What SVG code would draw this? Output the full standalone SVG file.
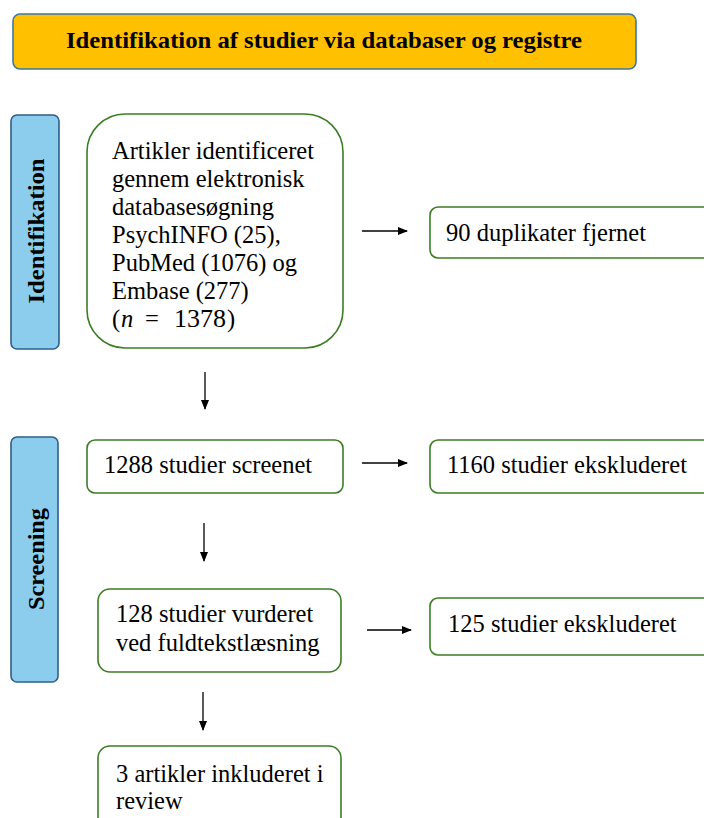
<svg xmlns="http://www.w3.org/2000/svg" width="704" height="818" viewBox="0 0 704 818">
<style>
.box{fill:#ffffff;stroke:#3b7d23;stroke-width:1.6}
.side{fill:#8ccdee;stroke:#2f5d8a;stroke-width:1.6}
.t{font-family:"Liberation Serif","Times New Roman",serif;font-size:24.5px;fill:#000}
.b{font-family:"Liberation Serif","Times New Roman",serif;font-weight:bold;fill:#000}
.arr{stroke:#000;stroke-width:1.3;fill:none;marker-end:url(#ah)}
</style>
<defs>
<marker id="ah" markerWidth="10" markerHeight="8" refX="9" refY="4" orient="auto" markerUnits="userSpaceOnUse">
<path d="M0,0 L10,4 L0,8 z" fill="#000"/>
</marker>
</defs>
<rect width="704" height="818" fill="#ffffff"/>
<g id="title">
<rect x="13" y="14" width="623" height="55" rx="7" fill="#ffc000" stroke="#3a78a8" stroke-width="1.6"/>
<text class="b" x="324" y="48" font-size="24" text-anchor="middle" textLength="516" lengthAdjust="spacingAndGlyphs">Identifikation af studier via databaser og registre</text>
</g>
<g id="side-identifikation">
<rect class="side" x="11" y="115" width="48" height="234" rx="6"/>
<text class="b" font-size="24" text-anchor="middle" textLength="145" lengthAdjust="spacingAndGlyphs" transform="translate(44,231) rotate(-90)">Identifikation</text>
</g>
<g id="side-screening">
<rect class="side" x="11" y="437" width="47" height="245" rx="6"/>
<text class="b" font-size="24" text-anchor="middle" textLength="102" lengthAdjust="spacingAndGlyphs" transform="translate(44,559) rotate(-90)">Screening</text>
</g>
<g id="n-identified">
<rect class="box" x="87" y="114" width="256" height="234" rx="38"/>
<text class="t" x="112"><tspan x="112" y="159">Artikler identificeret</tspan><tspan x="112" y="187">gennem elektronisk</tspan><tspan x="112" y="215">databasesøgning</tspan><tspan x="112" y="243">PsychINFO (25),</tspan><tspan x="112" y="271">PubMed (1076) og</tspan><tspan x="112" y="299">Embase (277)</tspan><tspan x="112" y="327">(</tspan><tspan x="121" y="327" font-style="italic">n</tspan><tspan x="145" y="327">=</tspan><tspan x="174" y="327" textLength="52" lengthAdjust="spacingAndGlyphs">1378</tspan><tspan x="227" y="327">)</tspan></text>
</g>
<g id="n-duplicates">
<rect class="box" x="430" y="207" width="290" height="51" rx="8"/>
<text class="t" x="446" y="241">90 duplikater fjernet</text>
</g>
<g id="n-screened">
<rect class="box" x="87" y="440" width="256" height="53" rx="8"/>
<text class="t" x="104" y="473">1288 studier screenet</text>
</g>
<g id="n-excluded1">
<rect class="box" x="430" y="440" width="290" height="53" rx="8"/>
<text class="t" x="447" y="473">1160 studier ekskluderet</text>
</g>
<g id="n-fulltext">
<rect class="box" x="98" y="589" width="243" height="83" rx="12"/>
<text class="t"><tspan x="116" y="622">128 studier vurderet</tspan><tspan x="116" y="651">ved fuldtekstlæsning</tspan></text>
</g>
<g id="n-excluded2">
<rect class="box" x="430" y="598" width="290" height="57" rx="8"/>
<text class="t" x="448" y="632">125 studier ekskluderet</text>
</g>
<g id="n-included">
<rect class="box" x="98" y="746" width="243" height="90" rx="12"/>
<text class="t"><tspan x="116" y="782">3 artikler inkluderet i</tspan><tspan x="116" y="809">review</tspan></text>
</g>
<g id="connectors">
<line class="arr" x1="362" y1="231" x2="407" y2="231"/>
<line class="arr" x1="205" y1="372" x2="205" y2="409"/>
<line class="arr" x1="362" y1="463" x2="407" y2="463"/>
<line class="arr" x1="204" y1="523" x2="204" y2="561"/>
<line class="arr" x1="367" y1="630" x2="411" y2="630"/>
<line class="arr" x1="203" y1="692" x2="203" y2="730"/>
</g>
</svg>
